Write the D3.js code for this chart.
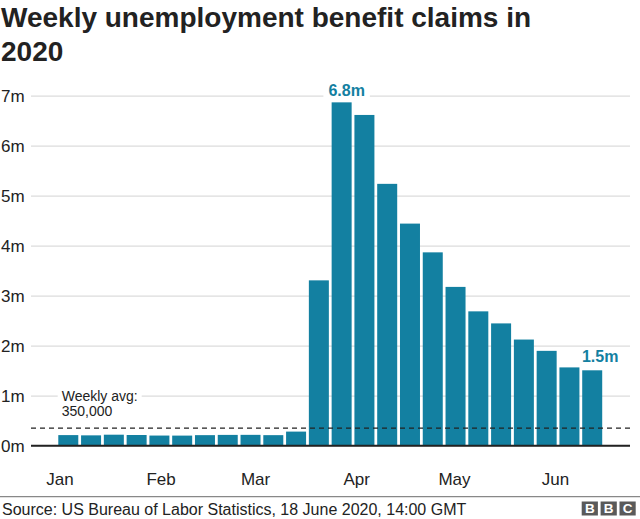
<!DOCTYPE html>
<html>
<head>
<meta charset="utf-8">
<script src="https://cdn.jsdelivr.net/npm/d3@7"></script>
<style>
  html, body { margin: 0; padding: 0; background: #fff; }
  svg { display: block; font-family: "Liberation Sans", Arial, Helvetica, sans-serif; }
</style>
</head>
<body>
<svg id="chart" width="640" height="519"></svg>
<script>
// ---- data ----
const weeks = ["2020-01-04","2020-01-11","2020-01-18","2020-01-25","2020-02-01","2020-02-08",
  "2020-02-15","2020-02-22","2020-02-29","2020-03-07","2020-03-14","2020-03-21","2020-03-28",
  "2020-04-04","2020-04-11","2020-04-18","2020-04-25","2020-05-02","2020-05-09","2020-05-16",
  "2020-05-23","2020-05-30","2020-06-06","2020-06-13"];
const claims = [0.212, 0.207, 0.220, 0.214, 0.203, 0.202, 0.211, 0.216, 0.217, 0.211, 0.282,
  3.307, 6.867, 6.615, 5.237, 4.442, 3.867, 3.176, 2.687, 2.446, 2.123, 1.897, 1.566, 1.508];
const yTicks = [0, 1, 2, 3, 4, 5, 6, 7];
const monthTicks = ["2020-01-01","2020-02-01","2020-03-01","2020-04-01","2020-05-01","2020-06-01"];
const weeklyAvg = 0.35;
const avgLabel = ["Weekly avg:", "350,000"];
const callouts = [{i: 12, text: "6.8m", dx: 5, dy: -6.7}, {i: 23, text: "1.5m", dx: 8, dy: -8.6}];
const titleLines = ["Weekly unemployment benefit claims in", "2020"];
const source = "Source: US Bureau of Labor Statistics, 18 June 2020, 14:00 GMT";

const TEAL = "#1380A1";
const svg = d3.select("#chart");
const parse = d3.timeParse("%Y-%m-%d");

// ---- scales ----
const y = d3.scaleLinear().domain([0, 7]).range([445.7, 95.7]);
const x = d3.scaleBand().domain(weeks).range([56.9, 603.6]).paddingInner(0.122).paddingOuter(0.061);
const xt = d3.scaleTime().domain([parse("2020-01-01"), parse("2020-06-30")]).range([59.5, 59.5 + 181 * 3.26]);

// ---- title ----
svg.append("g").selectAll("text").data(titleLines).join("text")
  .attr("x", 1).attr("y", (d, i) => 27 + i * 34)
  .attr("font-size", 28).attr("font-weight", "bold").attr("fill", "#222")
  .text(d => d);

// ---- y grid & labels ----
const gy = svg.append("g").attr("transform", "translate(31,0)")
  .call(d3.axisLeft(y).tickValues(yTicks).tickSize(-599).tickFormat(d => d + "m"));
gy.select(".domain").remove();
gy.selectAll(".tick line").attr("stroke", "#dcdcdc").attr("stroke-width", 1.2);
gy.selectAll(".tick text").attr("x", -30).attr("dy", "0.36em").attr("text-anchor", "start")
  .attr("font-size", 17).attr("fill", "#222").attr("font-family", "Liberation Sans, Arial, sans-serif");

// ---- bars ----
svg.append("g").selectAll("rect").data(weeks).join("rect")
  .attr("x", d => x(d)).attr("width", x.bandwidth())
  .attr("y", (d, i) => y(claims[i])).attr("height", (d, i) => y(0) - y(claims[i]))
  .attr("fill", TEAL);

// ---- baseline ----
svg.append("line").attr("x1", 31).attr("x2", 630).attr("y1", y(0)).attr("y2", y(0))
  .attr("stroke", "#222").attr("stroke-width", 2);

// ---- weekly avg dashed line ----
svg.append("line").attr("x1", 31).attr("x2", 630).attr("y1", y(weeklyAvg)).attr("y2", y(weeklyAvg))
  .attr("stroke", "#222").attr("stroke-width", 1.3).attr("stroke-dasharray", "5,4");

const avgG = svg.append("g");
const bgRect = avgG.append("rect").attr("fill", "#fff");
const avgT = avgG.selectAll("text").data(avgLabel).join("text")
  .attr("x", 61.7).attr("y", (d, i) => 400.7 + i * 15.5)
  .attr("font-size", 14).attr("fill", "#222").text(d => d);
const b0 = avgT.nodes()[0].getBBox();
bgRect.attr("x", b0.x - 4).attr("y", b0.y).attr("width", b0.width + 8).attr("height", b0.height);

// ---- callouts ----
callouts.forEach(c => {
  const cx = x(weeks[c.i]) + x.bandwidth() / 2 + c.dx;
  const cy = y(claims[c.i]) + c.dy;
  const g = svg.append("g");
  const r = g.append("rect").attr("fill", "#fff");
  const t = g.append("text").attr("x", cx).attr("y", cy).attr("text-anchor", "middle")
    .attr("font-size", 16).attr("font-weight", "bold").attr("fill", TEAL).text(c.text);
  const b = t.node().getBBox();
  r.attr("x", b.x - 5).attr("y", b.y).attr("width", b.width + 10).attr("height", b.height);
});

// ---- x month labels ----
const gx = svg.append("g").attr("transform", "translate(0,485)")
  .call(d3.axisBottom(xt).tickValues(monthTicks.map(parse)).tickSize(0).tickFormat(d3.timeFormat("%b")));
gx.select(".domain").remove();
gx.selectAll(".tick text").attr("y", 0).attr("dy", 0)
  .attr("font-size", 17).attr("fill", "#222").attr("font-family", "Liberation Sans, Arial, sans-serif");

// ---- footer ----
svg.append("line").attr("x1", 0).attr("x2", 640).attr("y1", 496.7).attr("y2", 496.7)
  .attr("stroke", "#888").attr("stroke-width", 1.3);
svg.append("text").attr("x", 2).attr("y", 515).attr("font-size", 16).attr("fill", "#222").text(source);

const logo = svg.append("g");
["B", "B", "C"].forEach((l, i) => {
  const lx = 581.7 + i * 18.9;
  logo.append("rect").attr("x", lx).attr("y", 501.5).attr("width", 16.2).attr("height", 14)
    .attr("fill", "#5a5a5a");
  logo.append("text").attr("x", lx + 8.1).attr("y", 513.3).attr("text-anchor", "middle")
    .attr("font-size", 13.5).attr("font-weight", "bold").attr("fill", "#fff").text(l);
});
</script>
</body>
</html>
